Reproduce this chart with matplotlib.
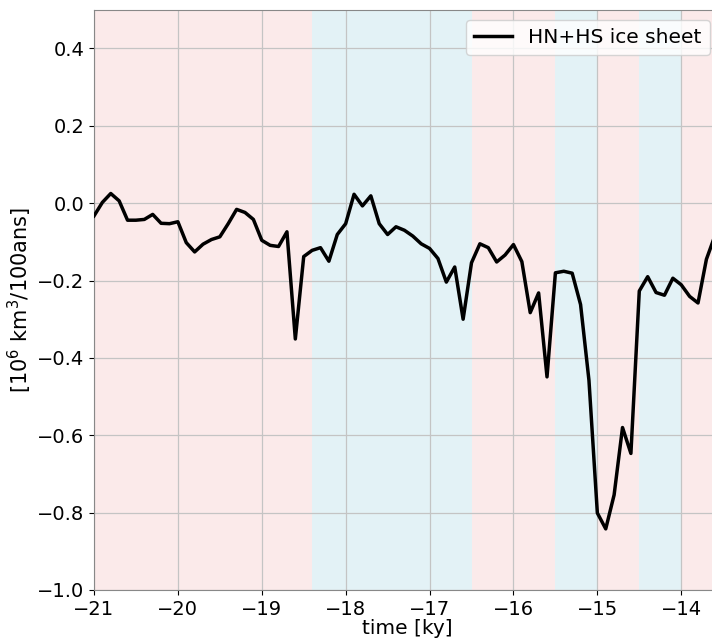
import numpy as np
import matplotlib.pyplot as plt

# ice volume change, every 100 years
time_ky = np.round(np.arange(-21.0, -13.55, 0.1), 1)
ice_sheet = [
    -0.033, 0.002, 0.025, 0.006, -0.044, -0.044, -0.042, -0.029, -0.052, -0.053,
    -0.048, -0.102, -0.126, -0.106, -0.094, -0.087, -0.053, -0.016, -0.024, -0.042,
    -0.096, -0.109, -0.112, -0.074, -0.351, -0.138, -0.122, -0.115, -0.150, -0.081,
    -0.053, 0.023, -0.007, 0.019, -0.053, -0.081, -0.061, -0.070, -0.085, -0.105,
    -0.117, -0.143, -0.204, -0.165, -0.300, -0.154, -0.105, -0.115, -0.152, -0.134,
    -0.107, -0.151, -0.283, -0.232, -0.449, -0.180, -0.176, -0.181, -0.262, -0.458,
    -0.801, -0.842, -0.754, -0.580, -0.647, -0.227, -0.190, -0.231, -0.238, -0.194,
    -0.211, -0.241, -0.258, -0.145, -0.085,
]

# cold (pink) / warm (blue) periods
period_edges = [-21.5, -18.4, -16.5, -15.5, -15.0, -14.5, -14.0, -13.0]
period_kind = ["cold", "warm", "cold", "warm", "cold", "warm", "cold"]
period_colors = {"cold": "#fbeaea", "warm": "#e3f2f6"}

fig = plt.figure(figsize=(7.12, 6.39), dpi=100)
ax = fig.add_axes([0.132, 0.0767, 0.879, 0.908])

for i, kind in enumerate(period_kind):
    ax.axvspan(period_edges[i], period_edges[i + 1], color=period_colors[kind], lw=0, zorder=0)

ax.plot(time_ky[:len(ice_sheet)], ice_sheet, color="black", lw=2.5, label="HN+HS ice sheet", zorder=3)

ax.set_xlim(-21, -13.54)
ax.set_ylim(-1.0, 0.5)
ax.set_xticks(np.arange(-21, -13, 1))
ax.set_yticks(np.arange(-1.0, 0.41, 0.2))
ax.grid(True, color="#c4c4c4", lw=0.9, zorder=1)
ax.set_axisbelow(True)
ax.tick_params(labelsize=14)
ax.set_xlabel("time [ky]", fontsize=14.5, labelpad=0)
ax.set_ylabel("[10$^6$ km$^3$/100ans]", fontsize=15, labelpad=2)
for s in ax.spines.values():
    s.set_color("#888888")
ax.legend(loc="upper right", fontsize=14.5, handlelength=1.9)

fig.savefig("out.png", dpi=100)
